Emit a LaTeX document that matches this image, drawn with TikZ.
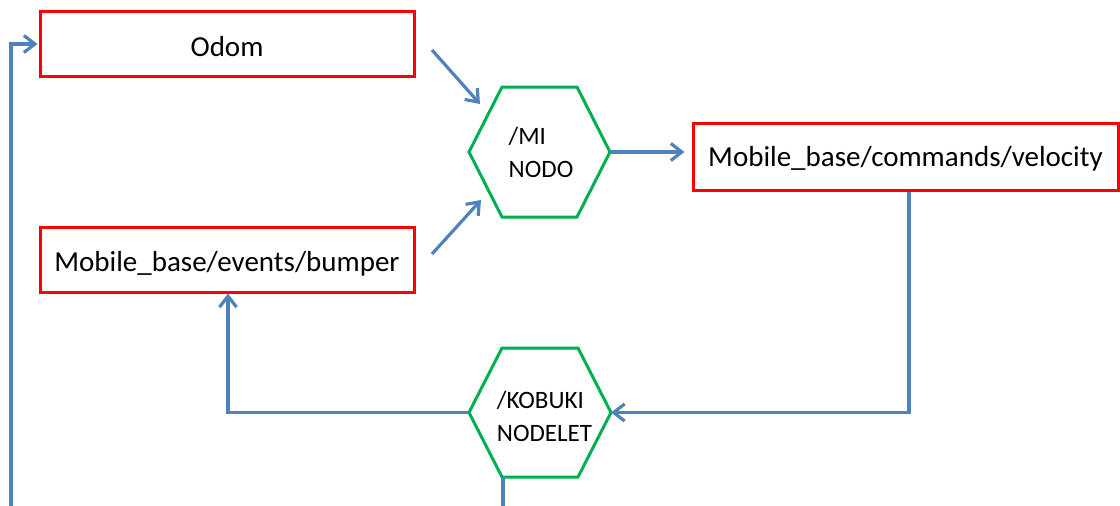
\documentclass[tikz,border=0pt]{standalone}
\usepackage{fontspec}
\setmainfont{Carlito}
\usetikzlibrary{arrows.meta}
\definecolor{topicred}{RGB}{255,0,0}
\definecolor{nodegreen}{RGB}{0,176,80}
\definecolor{linkblue}{RGB}{79,129,189}

\begin{document}
\begin{tikzpicture}[x=1pt,y=-1pt,
  topic/.style={draw=topicred, line width=3pt, minimum height=65pt, inner sep=0pt,
                text height=24pt, font=\fontsize{29}{35}\selectfont},
  nodelabel/.style={align=left, inner sep=0pt, font=\fontsize{25}{33}\selectfont},
  hexline/.style={draw=nodegreen, line width=3pt, line join=miter},
  link/.style={draw=linkblue, line width=3.2pt},
  flow/.style={link, -{Straight Barb[length=11pt,width=17pt]}}
]
\useasboundingbox (0,0) rectangle (1120,506);

% topics
\node[topic, minimum width=374pt, text depth=0pt] (odom) at (227,44) {Odom};
\node[topic, minimum width=374pt, text depth=1pt] (bumper) at (227,259.5)
  {Mobile\_base/events/bumper};
\node[topic, minimum width=425pt, minimum height=67pt, text depth=5pt] (vel) at (905.5,156.5)
  {Mobile\_base/commands/velocity};

% node /MI NODO
\coordinate (mi) at (539.5,152);
\draw[hexline] (mi) +(-70.5,0) coordinate (mi-w) -- +(-37.5,-65) -- +(37.5,-65)
  -- +(70.5,0) coordinate (mi-e) -- +(37.5,65) -- +(-37.5,65) -- cycle;
\node[nodelabel] (mi-label) at (541,152) {/MI\\NODO};

% node /KOBUKI NODELET
\coordinate (kob) at (540,412.5);
\draw[hexline] (kob) +(-71,0) coordinate (kob-w) -- +(-38,-64.5) -- +(38,-64.5)
  -- +(71,0) coordinate (kob-e) -- +(38,64.5) coordinate (kob-se)
  -- +(-38,64.5) coordinate (kob-sw) -- cycle;
\node[nodelabel] (kob-label) at (544.5,416) {/KOBUKI\\NODELET};

% free ends of connectors
\coordinate (odom-out) at (432,50);
\coordinate (mi-in-top) at (480,104);
\coordinate (bumper-out) at (432,254);
\coordinate (mi-in-bot) at (481,200);
\coordinate (kob-down) at (503,512);
\coordinate (loop-in) at (11,512);

% connectors
\draw[flow] (odom-out) -- (mi-in-top);
\draw[flow] (bumper-out) -- (mi-in-bot);
\draw[flow, shorten >=7pt] (mi-e) -- (mi-e -| vel.west);
\draw[flow] ([xshift=3.5pt]vel.south) |- (kob-e);
\draw[flow] (kob-w) -| ([xshift=1pt]bumper.south);
\draw[link] ([xshift=1pt]kob-sw) -- (kob-down);
\draw[flow, shorten >=1pt] (loop-in) |- (odom.west);
\end{tikzpicture}
\end{document}
